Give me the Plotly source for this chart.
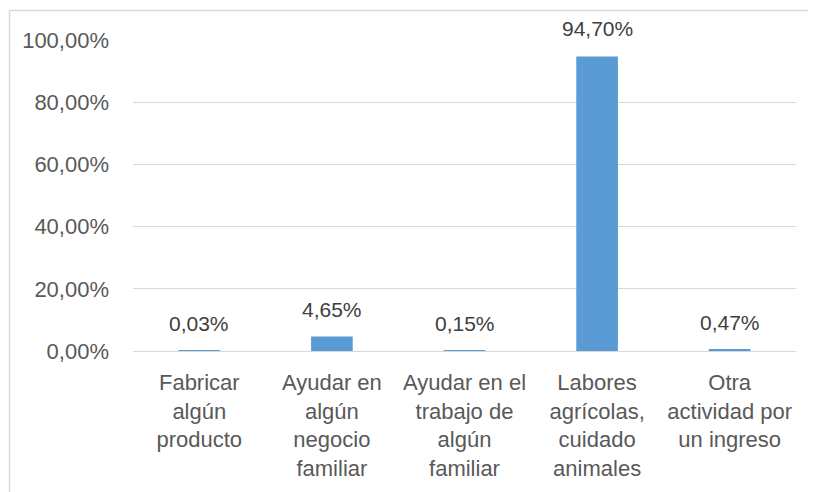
import plotly.graph_objects as go

categories = [
    "Fabricar<br>algún<br>producto",
    "Ayudar en<br>algún<br>negocio<br>familiar",
    "Ayudar en el<br>trabajo de<br>algún<br>familiar",
    "Labores<br>agrícolas,<br>cuidado<br>animales",
    "Otra<br>actividad por<br>un ingreso",
]
values = [0.03, 4.65, 0.15, 94.70, 0.47]
y_ticks = [0, 20, 40, 60, 80, 100]


def pct(v):
    return f"{v:.2f}".replace(".", ",") + "%"


FONT = "Liberation Sans, Arial, sans-serif"
GREY = "#595959"
FS = 22

fig = go.Figure()
fig.add_trace(go.Bar(
    x=categories, y=values, marker=dict(color="#5B9BD5", line=dict(width=0)),
    hoverinfo="skip",
))

for c, v in zip(categories, values):
    fig.add_annotation(
        x=c, y=v, xref="x", yref="y", text=pct(v),
        showarrow=False, yanchor="bottom", yshift=14,
        font=dict(family=FONT, size=21, color="#404040"),
    )

W, H = 816, 492
# page body has an 8px offset; plot area target (screen): x 133-796, y 40-351
OFF = 8
L, R, T, B = 133 - OFF, W - (796 - OFF), 40 - OFF, H - (351 - OFF)
pw, ph = W - L - R, H - T - B
bx0, by0 = 9.5 - OFF, 10.5 - OFF
fig.add_shape(
    type="rect", xref="paper", yref="paper",
    x0=(bx0 - L) / pw, x1=(W + 5 - L) / pw,
    y0=(H - B - (H + 5)) / ph, y1=(H - B - by0) / ph,
    line=dict(color="#d9d9d9", width=1.5), fillcolor="rgba(0,0,0,0)", layer="below",
)

fig.update_layout(
    width=W, height=H,
    margin=dict(l=L, r=R, t=T, b=B, pad=0, autoexpand=False),
    paper_bgcolor="white", plot_bgcolor="white",
    bargap=0.686,
    showlegend=False,
    font=dict(family=FONT, size=FS, color=GREY),
    xaxis=dict(
        showgrid=False, showline=False, zeroline=False, ticks="",
        tickfont=dict(family=FONT, size=FS, color=GREY),
        ticklabelstandoff=16, automargin=False,
    ),
    yaxis=dict(
        range=[0, 100], tickvals=y_ticks, ticktext=[pct(t) for t in y_ticks],
        showgrid=True, gridcolor="#d9d9d9", gridwidth=1,
        zeroline=True, zerolinecolor="#d9d9d9", zerolinewidth=1,
        showline=False, ticks="",
        tickfont=dict(family=FONT, size=FS, color=GREY),
        ticklabelstandoff=23, automargin=False,
    ),
)

fig.write_html("out.html")
